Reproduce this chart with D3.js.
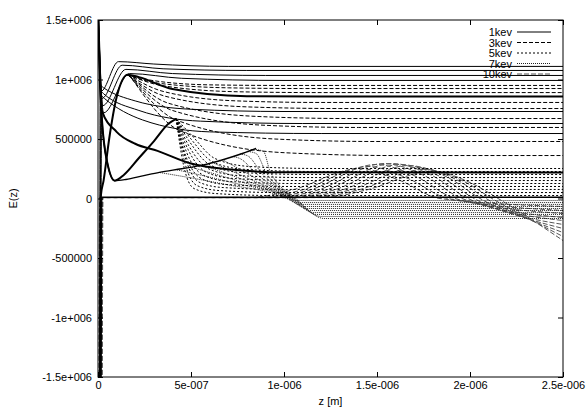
<!DOCTYPE html>
<html>
<head>
<meta charset="utf-8">
<script src="https://cdn.jsdelivr.net/npm/d3@7"></script>
<style>
  body { margin: 0; background: #fff; }
  text { font-family: "Liberation Sans", Arial, sans-serif; font-size: 11px; fill: #000; }
</style>
</head>
<body>
<svg id="chart"></svg>
<script>
let width = 587, height = 412;
const margin = {top: 20, right: 24, bottom: 35, left: 98};

// axis ticks (gnuplot style labels)
const xTicks = [0, 5e-7, 1e-6, 1.5e-6, 2e-6, 2.5e-6];
const xTickLabels = ["0", "5e-007", "1e-006", "1.5e-006", "2e-006", "2.5e-006"];
const yTicks = [-1.5e6, -1e6, -5e5, 0, 5e5, 1e6, 1.5e6];
const yTickLabels = ["-1.5e+006", "-1e+006", "-500000", "0", "500000", "1e+006", "1.5e+006"];
const seriesNames = ["1kev", "3kev", "5kev", "7kev", "10kev"];

// 1kev family, [z (m), E(z)]
const kev1Curves = [
  [[0, 1.6e6], [1.5e-8, 9.0e5], [1.1e-7, 1.15e6], [3.0e-7, 1.13e6], [7.0e-7, 1.11e6], [2.5e-6, 1.11e6]],
  [[0, 1.6e6], [2e-8, 8.4e5], [1.3e-7, 1.12e6], [3.5e-7, 1.09e6], [8e-7, 1.076e6], [2.5e-6, 1.076e6]],
  [[0, 1.6e6], [2.5e-8, 7.8e5], [1.5e-7, 1.085e6], [4e-7, 1.05e6], [9e-7, 1.034e6], [2.5e-6, 1.034e6]],
  [[0, 1.6e6], [3e-8, 7.2e5], [1.7e-7, 1.05e6], [4.5e-7, 1.01e6], [1.0e-6, 9.92e5], [2.5e-6, 9.92e5]],
  [[8e-9, -1.6e6], [1.2e-8, 9.5e5], [3e-8, 9.3e5], [2.0e-7, 8.2e5], [5e-7, 7.5e5], [1.0e-6, 7.31e5], [2.5e-6, 7.31e5]],
  [[1.1e-8, -1.6e6], [1.6e-8, 9.0e5], [3e-8, 8.8e5], [2.2e-7, 7.4e5], [5.5e-7, 6.5e5], [1.1e-6, 6.3e5], [2.5e-6, 6.3e5]],
  [[1.4e-8, -1.6e6], [2e-8, 8.6e5], [3.5e-8, 8.4e5], [2.4e-7, 6.6e5], [6e-7, 5.6e5], [1.2e-6, 5.46e5], [2.5e-6, 5.46e5]]
];
const zeroCurve = [[1.6e-8, -1.6e6], [2e-8, 1.0e4], [2.5e-6, 1.0e4]];

// heavy lines where many curves run on top of each other
const thickCurves = [
  [[1.2e-8, -1.6e6], [1.5e-8, 2e4], [3e-8, 1.5e5], [6e-8, 5.0e5], [1.0e-7, 8.5e5], [1.6e-7, 1.04e6], [2.2e-7, 1.02e6], [4e-7, 9.2e5], [8e-7, 8.6e5], [1.2e-6, 8.57e5], [2.5e-6, 8.57e5]],
  [[0, 1.6e6], [1e-8, 1.0e6], [2e-8, 7.4e5], [1e-7, 5.6e5], [2e-7, 4.6e5], [3.2e-7, 4.0e5], [5e-7, 2.94e5], [7e-7, 2.45e5], [1.0e-6, 2.2e5], [2.5e-6, 2.18e5]],
  [[0, 1.6e6], [1e-8, 1.1e6], [2e-8, 6.9e5], [5e-8, 3.0e5], [9e-8, 1.5e5], [1.4e-7, 2.0e5], [2.2e-7, 3.4e5], [3.0e-7, 4.8e5], [3.8e-7, 6.3e5], [4.2e-7, 6.7e5]]
];
const riseCurve = [[0, 1.6e6], [1e-8, 1.1e6], [2e-8, 6.9e5], [5e-8, 3.0e5], [9e-8, 1.5e5], [1.5e-7, 1.6e5], [2.4e-7, 1.9e5], [3.3e-7, 2.2e5], [4.5e-7, 2.5e5], [5.6e-7, 2.8e5], [6.8e-7, 3.3e5], [7.8e-7, 3.8e5], [8.5e-7, 4.2e5]];

// 3kev family
const kev3Curves = [
  [[1.5e-7, 1.04e6], [3e-7, 9.9e5], [6e-7, 9.55e5], [1.0e-6, 9.5e5], [2.5e-6, 9.5e5]],
  [[1.55e-7, 1.04e6], [3.2e-7, 9.7e5], [7e-7, 9.3e5], [1.1e-6, 9.24e5], [2.5e-6, 9.24e5]],
  [[1.6e-7, 1.04e6], [3.4e-7, 9.5e5], [7.5e-7, 8.97e5], [1.2e-6, 8.9e5], [2.5e-6, 8.9e5]],
  [[1.6e-7, 1.04e6], [3.5e-7, 9.0e5], [7.5e-7, 8.2e5], [1.2e-6, 8.07e5], [2.5e-6, 8.07e5]],
  [[1.65e-7, 1.03e6], [3.6e-7, 8.6e5], [8e-7, 7.7e5], [1.3e-6, 7.56e5], [2.5e-6, 7.56e5]],
  [[1.7e-7, 1.03e6], [3.8e-7, 8.0e5], [8.5e-7, 6.9e5], [1.35e-6, 6.72e5], [2.5e-6, 6.72e5]],
  [[1.75e-7, 1.02e6], [4e-7, 7.4e5], [9e-7, 6.15e5], [1.4e-6, 5.97e5], [2.5e-6, 5.97e5]],
  [[1.8e-7, 1.01e6], [4.2e-7, 6.6e5], [9.5e-7, 5.0e5], [1.5e-6, 4.79e5], [2.5e-6, 4.79e5]],
  [[1.85e-7, 1.0e6], [4.4e-7, 5.7e5], [1.0e-6, 3.85e5], [1.6e-6, 3.61e5], [2.5e-6, 3.61e5]]
];

// 5kev family
const kev5Curves = [
  [[4.2e-7, 6.7e5], [5.05e-7, 5.29e5], [6.29e-7, 3.36e5], [8.17e-7, 2.69e5], [1.194e-6, 2.52e5], [2.5e-6, 2.52e5]],
  [[4.2e-7, 6.7e5], [5.0e-7, 5.0e5], [6.18e-7, 3.07e5], [7.96e-7, 2.44e5], [1.167e-6, 2.27e5], [2.5e-6, 2.27e5]],
  [[4.2e-7, 6.7e5], [4.95e-7, 4.71e5], [6.08e-7, 2.77e5], [7.74e-7, 2.18e5], [1.14e-6, 2.02e5], [2.5e-6, 2.02e5]],
  [[4.2e-7, 6.7e5], [4.89e-7, 4.41e5], [5.97e-7, 2.48e5], [7.53e-7, 1.93e5], [1.113e-6, 1.76e5], [2.5e-6, 1.76e5]],
  [[4.2e-7, 6.7e5], [4.84e-7, 4.12e5], [5.86e-7, 2.18e5], [7.31e-7, 1.68e5], [1.086e-6, 1.51e5], [2.5e-6, 1.51e5]],
  [[4.2e-7, 6.7e5], [4.78e-7, 3.82e5], [5.75e-7, 1.89e5], [7.10e-7, 1.43e5], [1.059e-6, 1.26e5], [2.5e-6, 1.26e5]],
  [[4.2e-7, 6.7e5], [4.73e-7, 3.53e5], [5.65e-7, 1.60e5], [6.88e-7, 1.18e5], [1.032e-6, 1.01e5], [2.5e-6, 1.01e5]],
  [[4.2e-7, 6.7e5], [4.73e-7, 3.24e5], [5.48e-7, 1.34e5], [6.72e-7, 9.2e4], [1.005e-6, 7.6e4], [2.5e-6, 7.6e4]],
  [[4.2e-7, 6.7e5], [4.68e-7, 2.94e5], [5.32e-7, 1.09e5], [6.51e-7, 6.7e4], [9.78e-7, 5.0e4], [2.5e-6, 5.0e4]],
  [[4.2e-7, 6.7e5], [4.62e-7, 2.65e5], [5.16e-7, 8.4e4], [6.29e-7, 4.2e4], [9.52e-7, 2.5e4], [2.5e-6, 2.5e4]]
];

// 7kev family
const kev7Curves = [
  [[8.49e-7, 4.12e5], [8.9e-7, 3.95e5], [9.25e-7, 2.30e5], [1.065e-6, 0], [1.215e-6, -1.68e5], [2.5e-6, -1.68e5]],
  [[8.06e-7, 3.95e5], [8.5e-7, 3.78e5], [9.03e-7, 2.21e5], [1.059e-6, 0], [1.197e-6, -1.51e5], [2.5e-6, -1.51e5]],
  [[7.63e-7, 3.74e5], [8.05e-7, 3.58e5], [8.82e-7, 2.09e5], [1.054e-6, 0], [1.177e-6, -1.34e5], [2.5e-6, -1.34e5]],
  [[7.20e-7, 3.53e5], [7.6e-7, 3.38e5], [8.60e-7, 1.97e5], [1.048e-6, 0], [1.156e-6, -1.18e5], [2.5e-6, -1.18e5]],
  [[6.67e-7, 3.28e5], [8.33e-7, 1.84e5], [1.043e-6, 0], [1.137e-6, -1.01e5], [2.5e-6, -1.01e5]],
  [[6.13e-7, 3.03e5], [8.06e-7, 1.70e5], [1.038e-6, 0], [1.118e-6, -8.4e4], [2.5e-6, -8.4e4]],
  [[5.59e-7, 2.82e5], [7.80e-7, 1.59e5], [1.032e-6, 0], [1.097e-6, -6.7e4], [2.5e-6, -6.7e4]],
  [[4.95e-7, 2.65e5], [7.47e-7, 1.50e5], [1.027e-6, 0], [1.078e-6, -5.0e4], [2.5e-6, -5.0e4]],
  [[4.14e-7, 2.44e5], [7.10e-7, 1.38e5], [1.022e-6, 0], [1.059e-6, -3.4e4], [2.5e-6, -3.4e4]],
  [[3.33e-7, 2.18e5], [6.67e-7, 1.24e5], [1.016e-6, 0], [1.038e-6, -1.7e4], [2.5e-6, -1.7e4]]
];

// 10kev family
const kev10Curves = [
  [[5e-9, -1.6e6], [9e-9, 8e3], [8.17e-7, 8e3], [1.032e-6, 6.7e4], [1.409e-6, 2.52e5], [1.624e-6, 1.51e5], [1.839e-6, 0], [2.5e-6, -6.7e4]],
  [[7e-9, -1.6e6], [1.1e-8, 8e3], [8.71e-7, 8e3], [1.086e-6, 6.7e4], [1.452e-6, 2.69e5], [1.667e-6, 1.68e5], [1.882e-6, 0], [2.5e-6, -1.0e5]],
  [[9e-9, -1.6e6], [1.3e-8, 8e3], [9.14e-7, 8e3], [1.129e-6, 6.7e4], [1.495e-6, 2.86e5], [1.710e-6, 1.85e5], [1.919e-6, 0], [2.5e-6, -1.26e5]],
  [[1.1e-8, -1.6e6], [1.5e-8, 8e3], [9.57e-7, 8e3], [1.172e-6, 6.7e4], [1.538e-6, 2.94e5], [1.753e-6, 1.93e5], [1.957e-6, 0], [2.5e-6, -1.60e5]],
  [[1.3e-8, -1.6e6], [1.7e-8, 8e3], [1.000e-6, 8e3], [1.215e-6, 6.7e4], [1.581e-6, 2.94e5], [1.796e-6, 1.93e5], [1.989e-6, 0], [2.5e-6, -1.85e5]],
  [[1.5e-8, -1.6e6], [1.9e-8, 8e3], [1.043e-6, 8e3], [1.258e-6, 6.7e4], [1.624e-6, 2.86e5], [1.839e-6, 1.85e5], [2.022e-6, 0], [2.5e-6, -2.18e5]],
  [[1.7e-8, -1.6e6], [2.1e-8, 8e3], [1.086e-6, 8e3], [1.301e-6, 6.7e4], [1.667e-6, 2.77e5], [1.882e-6, 1.76e5], [2.054e-6, 0], [2.5e-6, -2.52e5]],
  [[1.9e-8, -1.6e6], [2.3e-8, 8e3], [1.129e-6, 8e3], [1.344e-6, 6.7e4], [1.710e-6, 2.61e5], [1.925e-6, 1.60e5], [2.086e-6, 0], [2.5e-6, -2.86e5]],
  [[2.1e-8, -1.6e6], [2.5e-8, 8e3], [1.172e-6, 8e3], [1.387e-6, 6.7e4], [1.753e-6, 2.44e5], [1.968e-6, 1.43e5], [2.118e-6, 0], [2.5e-6, -3.19e5]],
  [[2.3e-8, -1.6e6], [2.7e-8, 8e3], [1.215e-6, 8e3], [1.430e-6, 6.7e4], [1.796e-6, 2.27e5], [2.011e-6, 1.26e5], [2.151e-6, 0], [2.5e-6, -3.53e5]]
];

// line styles per series
const lineStyle = {
  "1kev":  {dash: null,  color: "#000", w: 1},
  "3kev":  {dash: "4,2", color: "#000", w: 1},
  "5kev":  {dash: "2,2", color: "#000", w: 1},
  "7kev":  {dash: "1,1", color: "#222", w: 1},
  "10kev": {dash: "5,2", color: "#555", w: 1}
};

const svg = d3.select("#chart")
  .attr("width", width)
  .attr("height", height);

const x = d3.scaleLinear().domain([0, 2.5e-6]).range([margin.left, width - margin.right]);
const y = d3.scaleLinear().domain([-1.5e6, 1.5e6]).range([height - margin.bottom, margin.top]);

svg.append("defs").append("clipPath").attr("id", "plotclip")
  .append("rect")
  .attr("x", margin.left).attr("y", margin.top)
  .attr("width", width - margin.left - margin.right)
  .attr("height", height - margin.top - margin.bottom);

// legend first, gnuplot draws the curves over it
const legend = svg.append("g").attr("class", "legend");
seriesNames.forEach((name, i) => {
  const cy = 32 + i * 10.5;
  const st = lineStyle[name];
  legend.append("text")
    .attr("x", 512).attr("y", cy + 4)
    .attr("text-anchor", "end")
    .text(name);
  legend.append("line")
    .attr("x1", 517).attr("x2", 551)
    .attr("y1", cy).attr("y2", cy)
    .attr("stroke", st.color)
    .attr("stroke-width", st.w)
    .attr("stroke-dasharray", st.dash);
});

const line = d3.line()
  .x(d => x(d[0]))
  .y(d => y(d[1]))
  .curve(d3.curveMonotoneX);

const plot = svg.append("g").attr("clip-path", "url(#plotclip)");

function drawFamily(curves, name, extraW) {
  const st = lineStyle[name];
  plot.append("g")
    .selectAll("path")
    .data(curves)
    .join("path")
    .attr("d", line)
    .attr("fill", "none")
    .attr("stroke", st.color)
    .attr("stroke-width", extraW || st.w)
    .attr("stroke-dasharray", st.dash);
}

drawFamily(kev10Curves, "10kev");
drawFamily(kev7Curves, "7kev");
drawFamily(kev5Curves, "5kev");
drawFamily(kev3Curves, "3kev");
drawFamily(kev1Curves, "1kev");
drawFamily([zeroCurve], "1kev", 1.5);
drawFamily(thickCurves, "1kev", 2);
drawFamily([riseCurve], "1kev", 1.4);

// axes with inward ticks on all four sides
const xAxis = svg.append("g")
  .attr("transform", `translate(0,${height - margin.bottom})`)
  .call(d3.axisBottom(x).tickValues(xTicks)
    .tickFormat((d, i) => xTickLabels[i])
    .tickSizeInner(-5).tickSizeOuter(0).tickPadding(4));
xAxis.select(".domain").remove();

svg.append("g")
  .attr("transform", `translate(0,${margin.top})`)
  .call(d3.axisTop(x).tickValues(xTicks).tickFormat("")
    .tickSizeInner(-5).tickSizeOuter(0))
  .call(g => g.select(".domain").remove());

svg.append("g")
  .attr("transform", `translate(${margin.left},0)`)
  .call(d3.axisLeft(y).tickValues(yTicks)
    .tickFormat((d, i) => yTickLabels[i])
    .tickSizeInner(-5).tickSizeOuter(0).tickPadding(6))
  .call(g => g.select(".domain").remove());

svg.append("g")
  .attr("transform", `translate(${width - margin.right},0)`)
  .call(d3.axisRight(y).tickValues(yTicks).tickFormat("")
    .tickSizeInner(-5).tickSizeOuter(0))
  .call(g => g.select(".domain").remove());

svg.selectAll(".tick text").attr("font-size", 11).attr("font-family", "Liberation Sans, Arial, sans-serif");

svg.append("rect")
  .attr("x", margin.left).attr("y", margin.top)
  .attr("width", width - margin.left - margin.right)
  .attr("height", height - margin.top - margin.bottom)
  .attr("fill", "none")
  .attr("stroke", "#000")
  .attr("stroke-width", 1);

svg.append("text")
  .attr("x", (margin.left + width - margin.right) / 2)
  .attr("y", 405)
  .attr("text-anchor", "middle")
  .text("z [m]");

svg.append("text")
  .attr("transform", `translate(17,${(margin.top + height - margin.bottom) / 2}) rotate(-90)`)
  .attr("text-anchor", "middle")
  .text("E(z)");
</script>
</body>
</html>
